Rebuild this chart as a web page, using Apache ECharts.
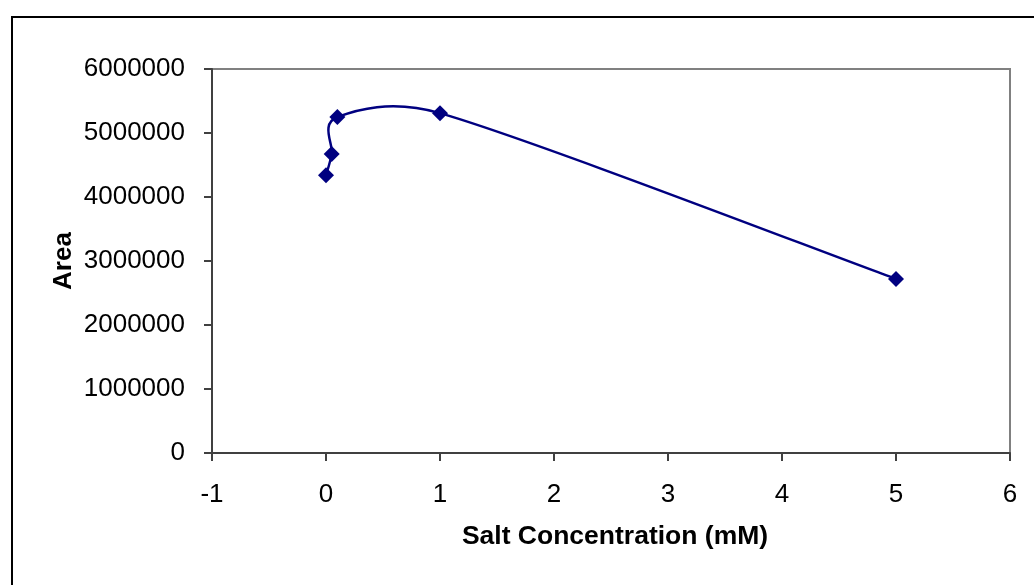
<!DOCTYPE html>
<html>
<head>
<meta charset="utf-8">
<script src="https://cdn.jsdelivr.net/npm/echarts@6/dist/echarts.min.js"></script>
<style>
html,body{margin:0;padding:0;background:#fff;}
#frame{position:absolute;left:11px;top:16px;width:1100px;height:700px;border-left:2px solid #000;border-top:2px solid #000;}
#chart{position:absolute;left:0;top:0;width:1034px;height:585px;}
</style>
</head>
<body>
<div id="frame"></div>
<div id="chart"></div>
<script>
const saltConc = [0, 0.05, 0.1, 1, 5];
const areaValues = [4340000, 4670000, 5250000, 5310000, 2720000];
const xTicks = [-1, 0, 1, 2, 3, 4, 5, 6];
const yTicks = [0, 1000000, 2000000, 3000000, 4000000, 5000000, 6000000];

const points = saltConc.map((x, i) => [x, areaValues[i]]);
const chart = echarts.init(document.getElementById('chart'), null, {renderer: 'canvas'});
const font = 'Liberation Sans, Arial, sans-serif';

// Excel-like smoothed segment between point i and i+1 (control points in pixel space)
function ctrl(p, prev, next, dirSign, segLen) {
  if (!prev || !next) return null;
  let vx = (next[0] - prev[0]) / 6, vy = (next[1] - prev[1]) / 6;
  const len = Math.hypot(vx, vy);
  const cap = segLen * 0.5;
  if (len > cap && len > 0) { vx *= cap / len; vy *= cap / len; }
  return [p[0] + dirSign * vx, p[1] + dirSign * vy];
}
function renderSeg(params, api) {
  const i = params.dataIndex;
  if (i >= points.length - 1) return null;
  const px = points.map(d => api.coord(d));
  const a = px[i], b = px[i + 1];
  const seg = Math.hypot(b[0] - a[0], b[1] - a[1]);
  const c1 = ctrl(a, px[i - 1], b, 1, seg) || [a[0] + (b[0] - a[0]) / 6, a[1] + (b[1] - a[1]) / 6];
  const c2 = ctrl(b, a, px[i + 2], -1, seg) || [b[0] - (b[0] - a[0]) / 6, b[1] - (b[1] - a[1]) / 6];
  return {
    type: 'bezierCurve',
    shape: {x1: a[0], y1: a[1], x2: b[0], y2: b[1], cpx1: c1[0], cpy1: c1[1], cpx2: c2[0], cpy2: c2[1]},
    style: {stroke: '#000080', lineWidth: 2.5, fill: null}
  };
}

chart.setOption({
  animation: false,
  backgroundColor: 'transparent',
  grid: {left: 212, right: 24, top: 69, bottom: 132, show: true, borderColor: '#808080', borderWidth: 2, backgroundColor: 'transparent'},
  xAxis: {
    type: 'value', min: xTicks[0], max: xTicks[xTicks.length - 1], interval: 1,
    name: 'Salt Concentration (mM)', nameLocation: 'middle', nameGap: 70, nameMoveOverlap: false,
    nameTextStyle: {fontFamily: font, fontSize: 26.5, fontWeight: 'bold', color: '#000', padding: [0, 0, 0, 8]},
    axisLine: {show: true, onZero: false, lineStyle: {color: '#404040', width: 2}},
    axisTick: {show: true, inside: false, length: 8, lineStyle: {color: '#404040', width: 2}},
    axisLabel: {fontFamily: font, fontSize: 26, color: '#000', margin: 29, formatter: v => String(v)},
    splitLine: {show: false}
  },
  yAxis: {
    type: 'value', min: yTicks[0], max: yTicks[yTicks.length - 1], interval: 1000000,
    name: 'Area', nameLocation: 'middle', nameGap: 135, nameMoveOverlap: false,
    nameTextStyle: {fontFamily: font, fontSize: 26, fontWeight: 'bold', color: '#000'},
    axisLine: {show: true, onZero: false, lineStyle: {color: '#404040', width: 2}},
    axisTick: {show: true, inside: false, length: 8, lineStyle: {color: '#404040', width: 2}},
    axisLabel: {fontFamily: font, fontSize: 26, color: '#000', margin: 27, formatter: v => String(v)},
    splitLine: {show: false}
  },
  series: [{
    type: 'custom',
    renderItem: renderSeg,
    data: points,
    clip: false,
    silent: true,
    z: 2
  }, {
    type: 'scatter',
    data: points,
    symbol: 'diamond',
    symbolSize: 16,
    itemStyle: {color: '#000080', opacity: 1},
    z: 3
  }]
});
</script>
</body>
</html>
